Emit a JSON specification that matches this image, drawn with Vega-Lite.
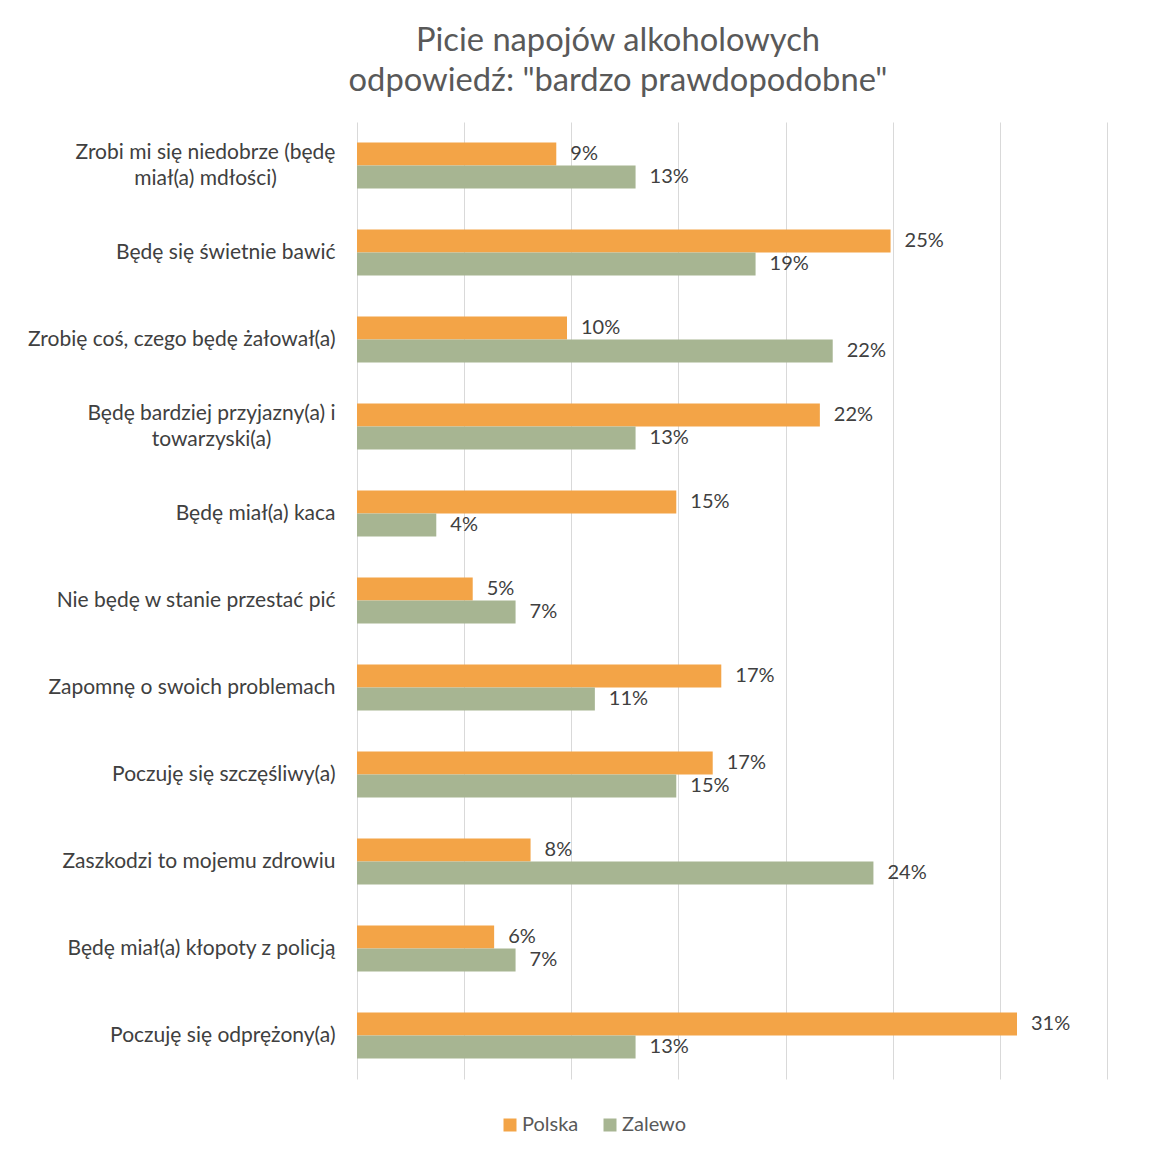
{
  "$schema": "https://vega.github.io/schema/vega-lite/v6.json",
  "width": 750,
  "height": 957,
  "autosize": "none",
  "padding": {"left": 357, "top": 122, "right": 59, "bottom": 75},
  "background": "white",
  "title": {
    "text": ["Picie napojów alkoholowych", "odpowiedź: \"bardzo prawdopodobne\""],
    "font": "Lato",
    "fontSize": 32.7,
    "fontWeight": "normal",
    "color": "#595959",
    "anchor": "middle",
    "dx": -114,
    "offset": 24,
    "lineHeight": 40
  },
  "config": {
    "font": "Lato",
    "view": {"stroke": null}
  },
  "data": {
    "values": [
      {"kategoria": "Zrobi mi się niedobrze (będę|miał(a) mdłości)", "nr": 1, "seria": "Polska", "wartosc": 0.093},
      {"kategoria": "Zrobi mi się niedobrze (będę|miał(a) mdłości)", "nr": 1, "seria": "Zalewo", "wartosc": 0.130},
      {"kategoria": "Będę się świetnie bawić", "nr": 2, "seria": "Polska", "wartosc": 0.249},
      {"kategoria": "Będę się świetnie bawić", "nr": 2, "seria": "Zalewo", "wartosc": 0.186},
      {"kategoria": "Zrobię coś, czego będę żałował(a)", "nr": 3, "seria": "Polska", "wartosc": 0.098},
      {"kategoria": "Zrobię coś, czego będę żałował(a)", "nr": 3, "seria": "Zalewo", "wartosc": 0.222},
      {"kategoria": "Będę bardziej przyjazny(a) i|towarzyski(a)", "nr": 4, "seria": "Polska", "wartosc": 0.216},
      {"kategoria": "Będę bardziej przyjazny(a) i|towarzyski(a)", "nr": 4, "seria": "Zalewo", "wartosc": 0.130},
      {"kategoria": "Będę miał(a) kaca", "nr": 5, "seria": "Polska", "wartosc": 0.149},
      {"kategoria": "Będę miał(a) kaca", "nr": 5, "seria": "Zalewo", "wartosc": 0.037},
      {"kategoria": "Nie będę w stanie przestać pić", "nr": 6, "seria": "Polska", "wartosc": 0.054},
      {"kategoria": "Nie będę w stanie przestać pić", "nr": 6, "seria": "Zalewo", "wartosc": 0.074},
      {"kategoria": "Zapomnę o swoich problemach", "nr": 7, "seria": "Polska", "wartosc": 0.170},
      {"kategoria": "Zapomnę o swoich problemach", "nr": 7, "seria": "Zalewo", "wartosc": 0.111},
      {"kategoria": "Poczuję się szczęśliwy(a)", "nr": 8, "seria": "Polska", "wartosc": 0.166},
      {"kategoria": "Poczuję się szczęśliwy(a)", "nr": 8, "seria": "Zalewo", "wartosc": 0.149},
      {"kategoria": "Zaszkodzi to mojemu zdrowiu", "nr": 9, "seria": "Polska", "wartosc": 0.081},
      {"kategoria": "Zaszkodzi to mojemu zdrowiu", "nr": 9, "seria": "Zalewo", "wartosc": 0.241},
      {"kategoria": "Będę miał(a) kłopoty z policją", "nr": 10, "seria": "Polska", "wartosc": 0.064},
      {"kategoria": "Będę miał(a) kłopoty z policją", "nr": 10, "seria": "Zalewo", "wartosc": 0.074},
      {"kategoria": "Poczuję się odprężony(a)", "nr": 11, "seria": "Polska", "wartosc": 0.308},
      {"kategoria": "Poczuję się odprężony(a)", "nr": 11, "seria": "Zalewo", "wartosc": 0.130}
    ]
  },
  "encoding": {
    "y": {
      "field": "kategoria",
      "type": "nominal",
      "sort": {"field": "nr", "order": "ascending"},
      "scale": {"paddingInner": 0.47, "paddingOuter": 0.235},
      "axis": {
        "title": null,
        "ticks": false,
        "domain": false,
        "labelFontSize": 21,
        "labelColor": "#404040",
        "labelPadding": {
          "condition": [
            {"test": "indexof(datum.value, 'Zrobi mi') >= 0", "value": 152},
            {"test": "indexof(datum.value, 'przyjazny') >= 0", "value": 146}
          ],
          "value": 22
        },
        "labelAlign": {
          "condition": {"test": "indexof(datum.value, '|') >= 0", "value": "center"},
          "value": "right"
        },
        "labelOffset": {
          "condition": {"test": "indexof(datum.value, '|') >= 0", "value": -13},
          "value": 0
        },
        "labelLimit": 400,
        "labelLineHeight": 26,
        "labelExpr": "split(datum.label, '|')"
      }
    },
    "yOffset": {"field": "seria", "type": "nominal", "sort": ["Polska", "Zalewo"], "scale": {"paddingInner": 0, "paddingOuter": 0}},
    "x": {
      "field": "wartosc",
      "type": "quantitative",
      "scale": {"domain": [0, 0.35], "nice": false},
      "axis": {
        "title": null,
        "labels": false,
        "ticks": false,
        "domain": false,
        "grid": true,
        "gridColor": "#d9d9d9",
        "gridWidth": 1,
        "values": [0, 0.05, 0.1, 0.15, 0.2, 0.25, 0.3, 0.35]
      }
    }
  },
  "layer": [
    {
      "mark": {"type": "bar", "cornerRadius": 0},
      "encoding": {
        "color": {
          "field": "seria",
          "type": "nominal",
          "scale": {"domain": ["Polska", "Zalewo"], "range": ["#F3A447", "#A7B592"]},
          "legend": {
            "title": null,
            "orient": "none",
            "direction": "horizontal",
            "legendX": 143,
            "legendY": 993,
            "symbolType": "square",
            "symbolSize": 169,
            "symbolStrokeWidth": 0,
            "labelFontSize": 20,
            "labelColor": "#595959",
            "labelOffset": 2,
            "columnPadding": 21
          }
        }
      }
    },
    {
      "mark": {"type": "text", "align": "left", "baseline": "middle", "dx": 14, "fontSize": 20, "color": "#404040"},
      "encoding": {
        "text": {"field": "wartosc", "type": "quantitative", "format": ".0%"}
      }
    }
  ]
}
